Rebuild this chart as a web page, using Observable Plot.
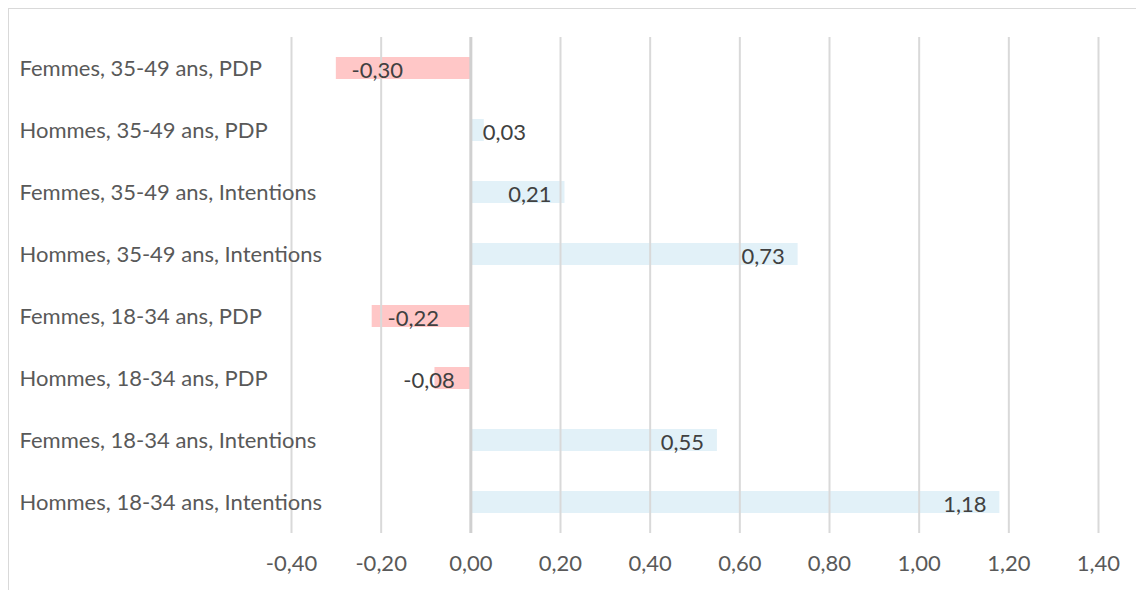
<!DOCTYPE html>
<html>
<head>
<meta charset="utf-8">
<script src="https://cdn.jsdelivr.net/npm/d3@7"></script>
<script src="https://cdn.jsdelivr.net/npm/@observablehq/plot@0.6"></script>
<style>
  html, body { margin: 0; padding: 0; background: #fff; overflow: hidden; }
  #wrap { position: relative; width: 1136px; height: 590px; }
  #border { position: absolute; left: 8px; top: 8px; width: 1200px; height: 700px; border: 1.5px solid #d9d9d9; box-sizing: border-box; pointer-events: none; }
  #chart { position: absolute; left: 0; top: 0; }
</style>
</head>
<body>
<div id="wrap"><div id="border"></div><div id="chart"></div></div>
<script>
const categories = [
  "Femmes, 35-49 ans, PDP",
  "Hommes, 35-49 ans, PDP",
  "Femmes, 35-49 ans, Intentions",
  "Hommes, 35-49 ans, Intentions",
  "Femmes, 18-34 ans, PDP",
  "Hommes, 18-34 ans, PDP",
  "Femmes, 18-34 ans, Intentions",
  "Hommes, 18-34 ans, Intentions"
];
const values = [-0.30, 0.03, 0.21, 0.73, -0.22, -0.08, 0.55, 1.18];
const xTicks = [-0.4, -0.2, 0, 0.2, 0.4, 0.6, 0.8, 1.0, 1.2, 1.4];

const data = categories.map((c, i) => ({category: c, value: values[i]}));
const fmt = v => d3.format(".2f")(v).replace("−", "-").replace(".", ",");
const font = "Lato, 'Open Sans', sans-serif";
const FS = 22;

const small = d => Math.abs(d.value) < 0.1;
const groups = [
  {filter: d => !small(d) && d.value < 0, dx: 41},
  {filter: d => !small(d) && d.value >= 0, dx: -35},
  {filter: d => small(d) && d.value < 0, dx: -6},
  {filter: d => small(d) && d.value >= 0, dx: 20}
];

const chart = Plot.plot({
  width: 1136,
  height: 590,
  marginLeft: 291,
  marginRight: 38,
  marginTop: 37,
  marginBottom: 57,
  style: {fontFamily: font, fontSize: FS + "px", color: "#595959", background: "transparent"},
  x: {domain: [-0.4, 1.4], axis: null},
  y: {domain: categories, axis: null, paddingInner: 0.645, paddingOuter: 0.3225},
  marks: [
    Plot.barX(data, {
      x: "value", y: "category",
      fill: d => d.value < 0 ? "#ffc7c7" : "#e2f1f8"
    }),
    Plot.ruleX(xTicks.filter(t => t !== 0), {stroke: "#d9d9d9", strokeWidth: 2}),
    Plot.ruleX([0], {stroke: "#d0d0d0", strokeWidth: 3}),
    Plot.axisX({
      ticks: xTicks, tickFormat: fmt, tickSize: 0, tickPadding: 22, label: null,
      fontSize: FS, fill: "#595959", fontFamily: font
    }),
    Plot.text(data, {
      y: "category", frameAnchor: "left", textAnchor: "start", dx: -272,
      text: "category", fill: "#595959", fontSize: FS, fontFamily: font
    }),
    ...groups.map(g => Plot.text(data.filter(g.filter), {
      x: "value", y: "category", text: d => fmt(d.value),
      dx: g.dx, dy: 2,
      textAnchor: "middle", fill: "#404040", fontSize: FS, fontFamily: font
    }))
  ]
});
document.getElementById("chart").appendChild(chart);
</script>
</body>
</html>
